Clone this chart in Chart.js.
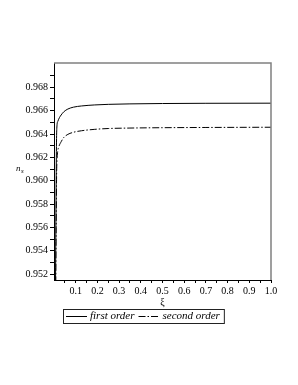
<!DOCTYPE html>
<html>
<head>
<meta charset="utf-8">
<script src="https://cdn.jsdelivr.net/npm/chart.js@4.4.1/dist/chart.umd.min.js"></script>
<style>
    html, body { margin: 0; padding: 0; background: #fff; }
    #wrap { width: 298px; height: 385px; }
</style>
</head>
<body>
<div id="wrap"><canvas id="nsChart" width="298" height="385"></canvas></div>
<script>
// values
const xiFirst = [0.006, 0.009, 0.011, 0.013, 0.018, 0.025, 0.033, 0.045, 0.064, 0.09, 0.126, 0.188, 0.25, 0.35, 0.5, 0.7, 1.0];
const firstOrder = [0.948, 0.957, 0.9625, 0.9645, 0.9651, 0.9654, 0.96563, 0.9659, 0.96614, 0.9663, 0.9664, 0.96649, 0.96654, 0.96658, 0.96661, 0.96663, 0.96664];
const xiSecond = [0.007, 0.010, 0.012, 0.014, 0.017, 0.022, 0.033, 0.045, 0.064, 0.09, 0.127, 0.188, 0.25, 0.35, 0.5, 0.7, 1.0];
const secondOrder = [0.948, 0.956, 0.9605, 0.9618, 0.9625, 0.9629, 0.96334, 0.9637, 0.96397, 0.96415, 0.96428, 0.9644, 0.96447, 0.96451, 0.96454, 0.96456, 0.96458];
const seriesNames = ['first order', 'second order'];
const xTickLabels = ['0.1', '0.2', '0.3', '0.4', '0.5', '0.6', '0.7', '0.8', '0.9', '1.0'];
const yTickLabels = ['0.952', '0.954', '0.956', '0.958', '0.960', '0.962', '0.964', '0.966', '0.968'];

const serif = '"Liberation Serif", "Times New Roman", serif';

function toPoints(xs, ys) {
    return xs.map((x, i) => ({ x: x, y: ys[i] }));
}

// major ticks from the label lists, plus one minor tick between each pair
function withMinor(labels, half) {
    const vals = labels.map(Number);
    const out = [{ value: vals[0] - half }];
    vals.forEach(v => {
        out.push({ value: v });
        out.push({ value: v + half });
    });
    return out;
}

// top/right frame, n_s label and the boxed legend
const framePlugin = {
    id: 'frame',
    afterDraw(chart) {
        const ctx = chart.ctx;
        const a = chart.chartArea;
        ctx.save();
        ctx.strokeStyle = '#808080';
        ctx.lineWidth = 1.5;
        ctx.beginPath();
        ctx.moveTo(a.left, a.top);
        ctx.lineTo(a.right, a.top);
        ctx.lineTo(a.right, a.bottom);
        ctx.stroke();

        // n_s
        ctx.fillStyle = '#000';
        ctx.font = 'italic 9px ' + serif;
        ctx.textBaseline = 'alphabetic';
        ctx.fillText('n', 16, 171);
        ctx.font = 'italic 7px ' + serif;
        ctx.fillText('s', 21, 173);

        // legend box
        ctx.font = 'italic 11px ' + serif;
        const left = 63, top = 309, h = 14;
        let x = left + 3;
        const yMid = top + h / 2;
        chart.data.datasets.forEach(ds => {
            ctx.save();
            ctx.strokeStyle = ds.borderColor;
            ctx.lineWidth = 1;
            ctx.setLineDash(ds.borderDash || []);
            ctx.beginPath();
            ctx.moveTo(x, yMid + 0.5);
            ctx.lineTo(x + 21, yMid + 0.5);
            ctx.stroke();
            ctx.restore();
            x += 24;
            ctx.textBaseline = 'middle';
            ctx.fillText(ds.label, x, yMid + 0.5);
            x += ctx.measureText(ds.label).width + 4;
        });
        ctx.strokeStyle = '#222';
        ctx.lineWidth = 1;
        ctx.setLineDash([]);
        ctx.strokeRect(left + 0.5, top + 0.5, x - left, h);
        ctx.restore();
    }
};

const ctx = document.getElementById('nsChart').getContext('2d');
const nsChart = new Chart(ctx, {
    type: 'line',
    data: {
        datasets: [{
            label: seriesNames[0],
            data: toPoints(xiFirst, firstOrder),
            borderColor: '#000',
            borderWidth: 1,
            pointRadius: 0,
            cubicInterpolationMode: 'monotone',
            fill: false
        }, {
            label: seriesNames[1],
            data: toPoints(xiSecond, secondOrder),
            borderColor: '#000',
            borderWidth: 1,
            borderDash: [7, 2, 1.5, 2],
            pointRadius: 0,
            cubicInterpolationMode: 'monotone',
            fill: false
        }]
    },
    options: {
        responsive: false,
        animation: false,
        layout: {
            padding: { left: 0, top: 63, right: 27, bottom: 77 }
        },
        scales: {
            x: {
                type: 'linear',
                min: 0,
                max: 1,
                afterFit: function(scale) { scale.height = 28; },
                afterBuildTicks: function(scale) { scale.ticks = withMinor(xTickLabels, 0.05).filter(t => t.value <= 1.0001); },
                grid: { drawOnChartArea: false, tickLength: 3, color: '#000' },
                border: { color: '#000', width: 1 },
                ticks: {
                    autoSkip: false,
                    maxRotation: 0,
                    padding: 2,
                    color: '#000',
                    font: { family: serif, size: 10 },
                    callback: function(value) {
                        const lbl = Number(value).toFixed(1);
                        return (Math.abs(value * 10 - Math.round(value * 10)) < 1e-6 && xTickLabels.includes(lbl)) ? lbl : '';
                    }
                },
                title: {
                    display: true,
                    text: 'ξ',
                    color: '#000',
                    font: { family: serif, size: 10 },
                    padding: { top: 0, bottom: 0 }
                }
            },
            y: {
                min: 0.9515,
                max: 0.97008,
                afterFit: function(scale) { scale.width = 54; },
                afterBuildTicks: function(scale) { scale.ticks = withMinor(yTickLabels, 0.001).filter(t => t.value >= 0.9515 && t.value <= 0.9695); },
                grid: { drawOnChartArea: false, tickLength: 4, color: '#000' },
                border: { color: '#000', width: 1 },
                ticks: {
                    autoSkip: false,
                    padding: 2,
                    color: '#000',
                    font: { family: serif, size: 10 },
                    callback: function(value) {
                        const lbl = Number(value).toFixed(3);
                        return (Math.abs(value * 1000 - Math.round(value * 1000)) < 1e-6 && yTickLabels.includes(lbl)) ? lbl : '';
                    }
                }
            }
        },
        plugins: {
            legend: { display: false },
            tooltip: { enabled: false }
        }
    },
    plugins: [framePlugin]
});
</script>
</body>
</html>
